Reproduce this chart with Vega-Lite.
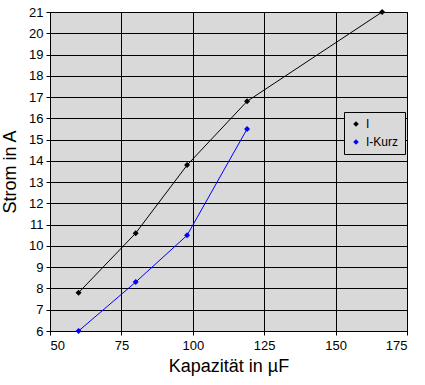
{
  "$schema": "https://vega.github.io/schema/vega-lite/v6.json",
  "width": 357,
  "height": 319,
  "autosize": "none",
  "padding": {"left": 50, "top": 12, "right": 18, "bottom": 54},
  "background": "white",
  "config": {
    "view": {"fill": "#d9d9d9", "stroke": "black", "strokeWidth": 1},
    "font": "Liberation Sans",
    "axis": {
      "gridColor": "black", "gridOpacity": 1, "gridWidth": 1,
      "domainColor": "black", "domainWidth": 1,
      "tickColor": "black", "tickSize": 4, "tickWidth": 1,
      "labelColor": "black", "labelFontSize": 13, "labelFont": "Liberation Sans",
      "titleColor": "black", "titleFontSize": 18, "titleFont": "Liberation Sans", "titleFontWeight": "normal"
    }
  },
  "data": {"values": [
    {"c": 60, "a": 7.8, "s": "I"},
    {"c": 80, "a": 10.6, "s": "I"},
    {"c": 98, "a": 13.8, "s": "I"},
    {"c": 119, "a": 16.8, "s": "I"},
    {"c": 166.3, "a": 21, "s": "I"},
    {"c": 60, "a": 6.0, "s": "I-Kurz"},
    {"c": 80, "a": 8.3, "s": "I-Kurz"},
    {"c": 98, "a": 10.5, "s": "I-Kurz"},
    {"c": 119, "a": 15.5, "s": "I-Kurz"}
  ]},
  "encoding": {
    "x": {"field": "c", "type": "quantitative", "scale": {"domain": [50, 175], "nice": false, "zero": false},
      "axis": {"values": [50, 75, 100, 125, 150, 175], "title": "Kapazität in µF", "titlePadding": 5, "labelPadding": 4}},
    "y": {"field": "a", "type": "quantitative", "scale": {"domain": [6, 21], "nice": false, "zero": false},
      "axis": {"values": [6,7,8,9,10,11,12,13,14,15,16,17,18,19,20,21], "title": "Strom in A", "titlePadding": 9, "labelPadding": 3}},
    "color": {"field": "s", "type": "nominal", "scale": {"domain": ["I", "I-Kurz"], "range": ["black", "#0000ff"]},
      "legend": {"title": null, "orient": "none", "legendX": 294, "legendY": 100,
        "fillColor": "#d9d9d9", "strokeColor": "black", "padding": 6, "symbolType": "diamond", "symbolSize": 30,
        "labelFontSize": 12, "labelColor": "black", "rowPadding": 6, "symbolStrokeWidth": 0}}
  },
  "layer": [
    {"mark": {"type": "line", "strokeWidth": 1}},
    {"mark": {"type": "point", "shape": "diamond", "filled": true, "size": 36, "opacity": 1}}
  ]
}
